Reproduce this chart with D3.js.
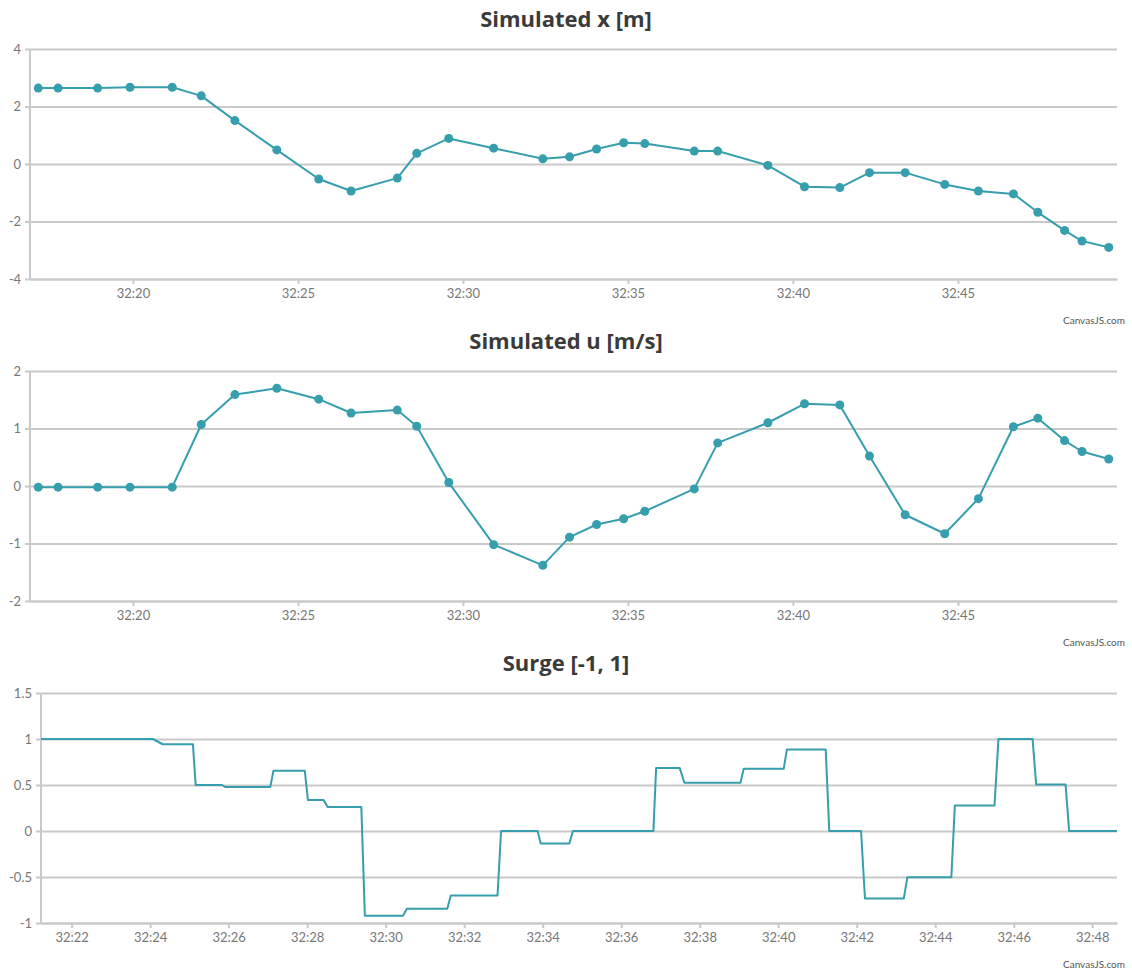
<!DOCTYPE html>
<html>
<head>
<meta charset="utf-8">
<script src="https://cdn.jsdelivr.net/npm/d3@7"></script>
<style>
  body { margin: 0; background: #fff; }
  svg { display: block; }
</style>
</head>
<body>
<div id="charts"></div>
<script>
// seconds within minute 32 (mm:ss axis)
const simTimes = [17.13, 17.73, 18.93, 19.91, 21.19, 22.07, 23.09, 24.36, 25.63, 26.61, 28.01,
  28.60, 29.57, 30.93, 32.42, 33.23, 34.05, 34.87, 35.51, 37.01, 37.72, 39.24, 40.35, 41.42,
  42.32, 43.40, 44.60, 45.62, 46.68, 47.42, 48.23, 48.76, 49.57];

const simX = [2.64, 2.64, 2.64, 2.67, 2.67, 2.37, 1.51, 0.49, -0.52, -0.94, -0.49,
  0.37, 0.89, 0.55, 0.18, 0.25, 0.52, 0.74, 0.71, 0.45, 0.45, -0.05, -0.79, -0.82,
  -0.30, -0.30, -0.71, -0.94, -1.04, -1.68, -2.31, -2.68, -2.90];

const simU = [-0.02, -0.02, -0.02, -0.02, -0.02, 1.07, 1.59, 1.70, 1.51, 1.27, 1.32,
  1.04, 0.06, -1.02, -1.38, -0.89, -0.67, -0.57, -0.44, -0.05, 0.75, 1.10, 1.43, 1.41,
  0.52, -0.50, -0.83, -0.22, 1.03, 1.18, 0.79, 0.60, 0.47];

const surgeTimes = [21.22, 24.07, 24.32, 25.09, 25.16, 25.83, 25.92, 27.06, 27.14, 27.94, 28.02,
  28.42, 28.52, 29.38, 29.47, 30.44, 30.54, 31.57, 31.66, 32.85, 32.94, 33.87, 33.95, 34.68,
  34.77, 36.82, 36.89, 37.49, 37.61, 39.04, 39.12, 40.14, 40.22, 41.21, 41.30, 42.11, 42.21,
  43.20, 43.29, 44.41, 44.50, 45.51, 45.61, 46.48, 46.57, 47.32, 47.41, 48.63];

const surge = [1.0, 1.0, 0.943, 0.943, 0.50, 0.50, 0.477, 0.477, 0.654, 0.654, 0.336,
  0.336, 0.26, 0.26, -0.92, -0.92, -0.845, -0.845, -0.70, -0.70, 0.0, 0.0, -0.137, -0.137,
  0.0, 0.0, 0.686, 0.686, 0.524, 0.524, 0.676, 0.676, 0.885, 0.885, 0.0, 0.0, -0.733,
  -0.733, -0.502, -0.502, 0.278, 0.278, 1.0, 1.0, 0.506, 0.506, 0.0, 0.0];

const panels = [
  { title: "Simulated x [m]", times: simTimes, values: simX, markers: true,
    xDomain: [16.88, 49.82], xStep: 5, yDomain: [-4, 4], yTicks: [-4, -2, 0, 2, 4],
    top: 0, left: 30 },
  { title: "Simulated u [m/s]", times: simTimes, values: simU, markers: true,
    xDomain: [16.88, 49.82], xStep: 5, yDomain: [-2, 2], yTicks: [-2, -1, 0, 1, 2],
    top: 322, left: 30 },
  { title: "Surge [-1, 1]", times: surgeTimes, values: surge, markers: false,
    xDomain: [21.22, 48.63], xStep: 2, yDomain: [-1, 1.5], yTicks: [-1, -0.5, 0, 0.5, 1, 1.5],
    top: 644, left: 41 }
];

const width = 1132;
const height = 974;
const lineColor = "#369EAD";
const gridColor = "#c9c9c9";
const font = "Lato, 'Open Sans', sans-serif";
const titleFont = "'Open Sans', Lato, sans-serif";

const base = new Date(2020, 0, 1, 0, 32, 0).getTime();
const toDate = s => new Date(base + s * 1000);

const svg = d3.select("#charts").append("svg")
  .attr("width", width)
  .attr("height", height);

panels.forEach(p => {
  const margin = { top: 49, right: 15, bottom: 45, left: p.left };
  const plotBottom = p.top + margin.top + 230;

  const x = d3.scaleTime()
    .domain(p.xDomain.map(toDate))
    .range([margin.left, width - margin.right]);
  const y = d3.scaleLinear()
    .domain(p.yDomain)
    .range([plotBottom, p.top + margin.top]);

  const g = svg.append("g");

  // title
  g.append("text")
    .attr("x", width / 2)
    .attr("y", p.top + 27)
    .attr("text-anchor", "middle")
    .style("font-family", titleFont)
    .style("font-weight", "bold")
    .style("font-size", "22px")
    .style("fill", "#3a3a3a")
    .text(p.title);

  // horizontal grid + y axis
  const yAxis = g.append("g")
    .attr("transform", `translate(${margin.left},0)`)
    .call(d3.axisLeft(y)
      .tickValues(p.yTicks)
      .tickSize(-(width - margin.right - margin.left))
      .tickSizeOuter(0)
      .tickPadding(9)
      .tickFormat(d => String(d)));
  yAxis.select(".domain").remove();
  yAxis.selectAll(".tick line")
    .attr("x1", -5)
    .attr("stroke", gridColor)
    .attr("stroke-width", 2);
  yAxis.selectAll(".tick text")
    .style("font-family", font)
    .style("font-size", "13px")
    .style("fill", "#777");

  // left axis line
  g.append("line")
    .attr("x1", margin.left).attr("x2", margin.left)
    .attr("y1", p.top + margin.top).attr("y2", plotBottom)
    .attr("stroke", gridColor)
    .attr("stroke-width", 2);

  // x axis
  const xAxis = g.append("g")
    .attr("transform", `translate(0,${plotBottom})`)
    .call(d3.axisBottom(x)
      .ticks(d3.timeSecond.every(p.xStep))
      .tickFormat(d3.timeFormat("%M:%S"))
      .tickSize(5)
      .tickSizeOuter(0)
      .tickPadding(5));
  xAxis.select(".domain")
    .attr("stroke", gridColor)
    .attr("stroke-width", 2);
  xAxis.selectAll(".tick line")
    .attr("stroke", gridColor)
    .attr("stroke-width", 2);
  xAxis.selectAll(".tick text")
    .style("font-family", font)
    .style("font-size", "13px")
    .style("fill", "#777");

  // data
  const pts = p.times.map((t, i) => ({ t: toDate(t), v: p.values[i] }));
  const line = d3.line().x(d => x(d.t)).y(d => y(d.v));

  g.append("path")
    .datum(pts)
    .attr("fill", "none")
    .attr("stroke", lineColor)
    .attr("stroke-width", 2)
    .attr("stroke-linejoin", "round")
    .attr("d", line);

  if (p.markers) {
    g.append("g")
      .selectAll("circle")
      .data(pts)
      .join("circle")
      .attr("cx", d => x(d.t))
      .attr("cy", d => y(d.v))
      .attr("r", 4.5)
      .attr("fill", lineColor);
  }

  // credit
  g.append("text")
    .attr("x", width - 7)
    .attr("y", p.top + 324)
    .attr("text-anchor", "end")
    .style("font-family", font)
    .style("font-size", "10px")
    .style("fill", "#555")
    .text("CanvasJS.com");
});
</script>
</body>
</html>
